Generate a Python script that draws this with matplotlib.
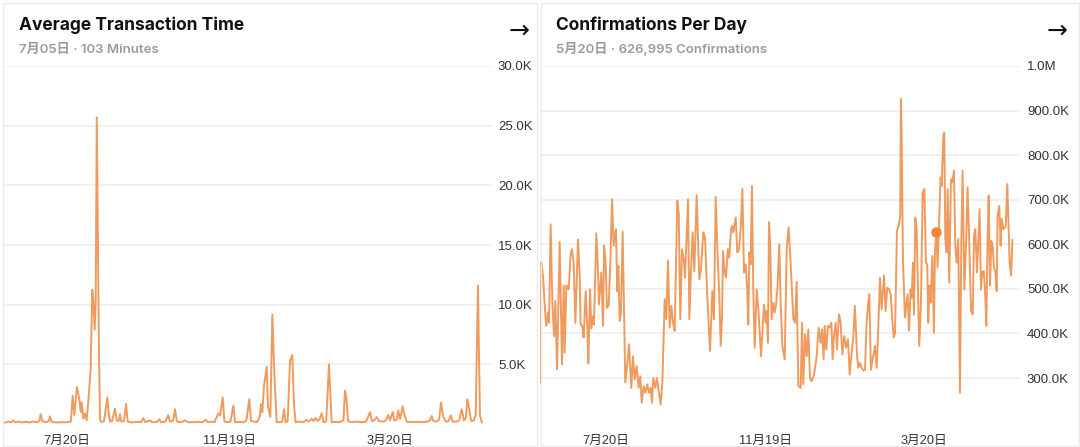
import numpy as np
import matplotlib.pyplot as plt
import matplotlib.dates as mdates
from matplotlib.patches import Rectangle

# Average transaction time (minutes), x = days after 2022-06-02
att_days = [0, 2, 4, 6, 7.5, 9, 12, 14, 17, 20, 23, 26, 27.5, 28.3, 29.5, 32, 34.5, 35.3, 36.5, 40,
            44, 48, 51, 52.4, 53.6, 55.6, 57.4, 58.4, 59.2, 60.4, 61.7, 62.9, 64.1, 65.9, 67.1, 67.9,
            68.9, 69.7, 70.5, 72, 72.9, 74, 76, 78.4, 79.5, 80.5, 82, 84.2, 85.5, 87, 88, 89, 91, 92.5,
            93.8, 97, 101, 104, 105.5, 107, 110.5, 112, 116, 117.5, 119, 122, 124.3, 125.5, 128, 129.3,
            130.8, 134, 136.8, 139, 143, 147, 150, 152.6, 154, 157, 159, 161.9, 163.2, 165.2, 166.5,
            169, 171, 173.2, 174.5, 178, 181, 183, 185.2, 186.5, 189, 191, 193, 194, 195, 196.2, 198.3,
            199.2, 200.2, 201, 202.5, 204, 205.8, 208, 210, 211.3, 212.5, 214, 215.8, 217.5, 218.8, 220,
            223, 226, 228, 230, 232, 233.5, 235, 236.5, 238, 239.6, 241, 243, 245.1, 247.1, 250, 253,
            256, 257.1, 258.2, 259.4, 262, 266, 270, 273, 276, 277.3, 279, 281, 282.5, 286, 288, 289.7,
            291, 293, 294.2, 296, 297.2, 298.5, 300.5, 302, 303.5, 307, 311, 315, 319, 321, 322.3, 323.5,
            326, 328, 329.3, 331, 333, 335, 336.8, 338, 341, 343, 344.9, 346.5, 348, 349.1, 350.5, 352,
            354, 355.4, 357.1, 358.6, 360]
att_vals = [150, 120, 200, 130, 300, 140, 200, 130, 180, 130, 200, 150, 300, 830, 250, 150, 250, 650, 180, 130,
            150, 140, 200, 2360, 750, 3100, 2080, 1000, 1830, 440, 870, 300, 1830, 4580, 11250, 10400,
            7900, 10400, 25700, 7700, 400, 150, 250, 2220, 900, 200, 250, 1300, 300, 250, 830, 200, 250, 1670,
            200, 130, 180, 150, 500, 150, 300, 150, 180, 400, 150, 200, 750, 200, 300, 1250,
            200, 150, 300, 150, 150, 180, 150, 350, 150, 200, 150, 900, 700, 2220, 200,
            150, 200, 1530, 150, 180, 150, 300, 2080, 250, 200, 150, 600, 1670, 1000, 3190, 4800,
            1500, 1000, 600, 9170, 4300, 150, 150, 200, 1250, 150, 200, 5280, 5780, 1600, 150,
            200, 150, 350, 200, 450, 250, 500, 250, 400, 900, 150, 200, 5000, 150, 180, 150,
            300, 2780, 2200, 250, 150, 200, 150, 200, 1000, 250, 300, 580, 250, 200, 300, 750,
            300, 1000, 300, 350, 1140, 400, 1470, 700, 200, 150, 180, 150, 200, 300, 670, 250,
            200, 400, 1800, 600, 200, 250, 720, 200, 200, 300, 1250, 300, 500, 2080, 1250, 250,
            300, 750, 11600, 700, 150]

# Confirmations per day (thousands), x = days after 2022-05-31
cpd_days = [0, 1.0, 2.3, 3.6, 4.8, 6.1, 6.9, 8.1, 9.4, 10.7, 11.7, 13.0, 15.0, 16.8, 18.1, 18.8, 20.1, 21.9,
            23.4, 24.4, 25.7, 27.0, 29.0, 30.3, 31.0, 32.3, 33.3, 34.9, 36.1, 36.9, 38.2, 39.2, 40.5, 41.2,
            43.0, 44.3, 45.0, 46.8, 48.1, 48.9, 50.1, 51.1, 52.4, 53.7, 55.0, 56.2, 58.0, 59.0, 59.8, 60.8,
            61.8, 63.1, 65.1, 66.7, 68.0, 69.7, 71.0, 72.3, 73.8, 75.3, 76.6, 77.6, 79.1, 80.4, 81.9, 83.2,
            84.5, 85.5, 86.5, 88.0, 89.3, 90.8, 92.1, 93.4, 95.2, 96.4, 97.7, 99.0, 100.3, 101.5, 102.8,
            104.8, 105.9, 107.1, 108.4, 109.7, 110.7, 113.0, 114.0, 115.2, 116.5, 117.8, 119.6, 121.6,
            122.9, 124.7, 126.0, 127.7, 129.8, 131.5, 132.8, 134.1, 135.6, 136.9, 137.9, 138.9, 139.7,
            141.0, 142.0, 143.3, 144.5, 145.8, 146.8, 147.6, 149.4, 150.6, 151.9, 153.2, 154.5, 155.7,
            157.0, 158.3, 159.0, 159.8, 160.8, 161.8, 162.8, 163.9, 165.4, 166.7, 168.7, 170.0, 171.0,
            172.3, 173.0, 174.0, 174.8, 175.8, 176.8, 178.1, 179.1, 180.1, 181.2, 182.7, 183.7, 185.0,
            186.8, 188.3, 189.8, 191.3, 193.4, 194.7, 195.9, 197.2, 199.0, 200.0, 201.0, 202.3, 203.6,
            204.8, 206.1, 207.4, 209.2, 211.2, 212.7, 214.2, 215.3, 216.5, 217.3, 218.6, 219.8, 221.1,
            222.4, 223.4, 224.4, 225.7, 226.7, 228.2, 229.5, 230.8, 232.3, 233.6, 235.1, 236.4, 237.9,
            239.2, 240.4, 242.0, 243.0, 244.3, 245.5, 246.8, 248.1, 249.3, 250.6, 251.4, 252.6, 254.4,
            255.7, 257.0, 258.2, 259.5, 260.8, 262.6, 263.8, 265.1, 266.4, 267.7, 268.9, 270.0, 271.0,
            272.5, 274.3, 275.0, 275.5, 276.1, 277.1, 278.6, 279.6, 280.6, 281.7, 282.9, 283.7, 284.7,
            285.5, 286.5, 287.5, 288.5, 289.5, 290.8, 292.1, 293.4, 294.6, 295.6, 296.4, 297.2, 298.2,
            299.5, 300.7, 301.5, 302.5, 303.5, 304.8, 305.8, 306.6, 307.9, 308.6, 309.4, 310.4, 311.2,
            312.4, 313.7, 314.7, 316.0, 317.0, 318.0, 319.3, 320.6, 321.6, 322.6, 323.9, 325.2, 326.4,
            327.7, 329.0, 330.3, 331.3, 332.3, 333.6, 334.6, 335.6, 336.6, 337.6, 338.7, 339.7, 340.7,
            341.7, 342.5, 343.5, 344.5, 345.5, 346.5, 347.6, 348.6, 349.3, 350.6, 351.6, 352.4, 353.7,
            355.5, 356.7, 358.5, 359.6, 360.6]
cpd_k = [290, 560, 530, 462, 417, 447, 424, 645, 469, 394, 473, 320, 605, 331, 507, 357, 508, 499,
         578, 589, 559, 424, 611, 530, 420, 417, 391, 495, 413, 333, 499, 411, 439, 420,
         625, 537, 465, 537, 417, 597, 559, 458, 462, 559, 701, 597, 634, 495, 552, 428,
         447, 628, 290, 334, 376, 278, 349, 297, 327, 278, 304, 245, 282, 267, 286, 267,
         278, 245, 300, 278, 300, 267, 241, 290, 477, 432, 563, 413, 462, 424, 406,
         698, 671, 432, 589, 567, 525, 701, 432, 537, 627, 540, 710, 522,
         544, 627, 615, 484, 361, 495, 432, 707, 574, 484, 372, 432, 585,
         537, 525, 589, 570, 634, 641, 627, 660, 582, 589, 634, 724, 537,
         555, 492, 420, 582, 555, 731, 499, 368, 499, 454, 349, 413, 465,
         424, 450, 379, 650, 597, 432, 469, 447, 462, 499, 600, 469, 372,
         342, 589, 638, 559, 432, 424, 516, 282, 278, 424, 286, 398, 349,
         409, 300, 293, 308, 349, 413, 379, 409, 342, 417, 364, 417, 413,
         424, 342, 394, 424, 364, 443, 424, 353, 394, 368, 387, 308, 357,
         394, 462, 349, 323, 334, 323, 317, 319, 424, 469, 488, 319, 349,
         372, 323, 409, 525, 454, 530, 450, 503, 499, 488, 432, 391, 402,
         630, 649, 664, 926, 836, 559, 436, 462, 488, 406, 499, 480, 559,
         443, 660, 634, 499, 372, 469, 716, 724, 559, 555, 424, 507, 469,
         574, 402, 585, 627, 548, 664, 750, 731, 844, 851, 612, 582, 724,
         514, 746, 739, 765, 597, 559, 612, 267, 604, 765, 499, 597, 728,
         604, 450, 443, 619, 634, 537, 608, 679, 499, 537, 540, 499, 417,
         619, 709, 507, 608, 597, 548, 540, 495, 664, 686, 597, 657, 634,
         640, 735, 560, 530, 610]
marker_day = 302.5
marker_value = 626995

tick_dates = ['2022-07-20', '2022-11-19', '2023-03-20']
tick_labels = ['7月20日', '11月19日', '3月20日']
att_yticks = [5000, 10000, 15000, 20000, 25000, 30000]
att_ylabels = ['5.0K', '10.0K', '15.0K', '20.0K', '25.0K', '30.0K']
cpd_yticks = [300000, 400000, 500000, 600000, 700000, 800000, 900000, 1000000]
cpd_ylabels = ['300.0K', '400.0K', '500.0K', '600.0K', '700.0K', '800.0K', '900.0K', '1.0M']

W, H = 1080, 447
LINE = '#f09b5e'
GRID = '#eeeeee'
CJK = ['Liberation Sans', 'Noto Sans CJK SC']
HEAD = ['Inter', 'Noto Sans CJK SC']

fig = plt.figure(figsize=(W / 100, H / 100), dpi=100)


def box(x0, y0, x1, y1):
    # pixel box (top-left origin) -> figure fraction rect
    return [x0 / W, 1 - y1 / H, (x1 - x0) / W, (y1 - y0) / H]


# card outlines
for x0, x1 in [(3, 537), (541, 1079)]:
    fig.patches.append(Rectangle((x0 / W, 1 - 446 / H), (x1 - x0) / W, 443 / H,
                                 transform=fig.transFigure, fill=False,
                                 edgecolor='#ebebeb', lw=1.0, zorder=0))

panels = [
    dict(rect=box(3, 66, 491, 424), start='2022-06-02', ppd=1.33, days=att_days,
         vals=np.array(att_vals, float), ylim=(0, 30000), yt=att_yticks, yl=att_ylabels,
         title='Average Transaction Time', sub='7月05日 · 103 Minutes', tx=19, ax_x=519),
    dict(rect=box(540, 66, 1020, 424), start='2022-05-31', ppd=1.31, days=cpd_days,
         vals=np.array(cpd_k, float) * 1000, ylim=(197000, 1000000), yt=cpd_yticks, yl=cpd_ylabels,
         title='Confirmations Per Day', sub='5月20日 · 626,995 Confirmations', tx=556, ax_x=1057),
]

for i, p in enumerate(panels):
    ax = fig.add_axes(p['rect'])
    base = mdates.datestr2num(p['start'])
    x = base + np.array(p['days'], float)
    ax.plot(x, p['vals'], color=LINE, lw=1.4, solid_joinstyle='round', zorder=3)
    if i == 1:
        ax.plot(base + marker_day, marker_value, 'o', color='#fb8233', ms=6.5, zorder=4)
    width_px = p['rect'][2] * W
    ax.set_xlim(base, base + width_px / p['ppd'])
    ax.set_ylim(*p['ylim'])
    ax.set_xticks([mdates.datestr2num(d) for d in tick_dates])
    ax.set_xticklabels(tick_labels, family=CJK, fontsize=9.2, color='#333333')
    ax.yaxis.tick_right()
    ax.set_yticks(p['yt'])
    ax.set_yticklabels(p['yl'], family=CJK, fontsize=9.5, color='#333333')
    ax.tick_params(length=0)
    ax.tick_params(axis='x', pad=8)
    ax.tick_params(axis='y', pad=5)
    ax.grid(axis='y', color=GRID, lw=1.2)
    ax.set_axisbelow(True)
    for s in ax.spines.values():
        s.set_visible(False)
    ax.patch.set_alpha(0)

    fig.text(p['tx'] / W, 1 - 30 / H, p['title'], family=HEAD, fontsize=12.5,
             fontweight='bold', color='#111111', va='baseline')
    fig.text(p['tx'] / W, 1 - 52.5 / H, p['sub'], family=HEAD, fontsize=9.5,
             fontweight='semibold', color='#9b9b9b', va='baseline')
    fig.text(p['ax_x'] / W, 1 - 31 / H, '→', family='DejaVu Sans', fontsize=18,
             color='#111111', ha='center', va='center')

fig.savefig('out.png', dpi=100)
